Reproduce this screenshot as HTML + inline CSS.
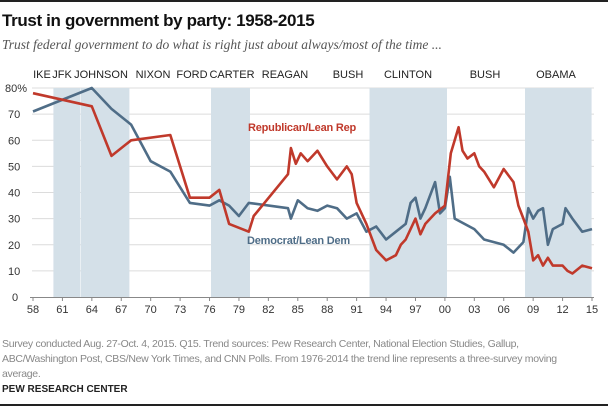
<!DOCTYPE html>
<html><head><meta charset="utf-8"><style>
body{margin:0;width:608px;height:408px;background:#fff;font-family:"Liberation Sans",Arial,sans-serif;position:relative;overflow:hidden}
.a{position:absolute;white-space:nowrap}
</style></head><body>
<div class="a" style="left:0;top:0;width:608px;height:2px;background:#222"></div>
<div class="a" style="left:2px;top:11px;font-size:17px;font-weight:bold;color:#111;letter-spacing:-0.35px">Trust in government by party: 1958-2015</div>
<div class="a" style="left:2px;top:37px;font-size:13.5px;font-style:italic;font-family:'Liberation Serif',serif;color:#555">Trust federal government to do what is right just about always/most of the time ...</div>
<svg id="s" class="a" style="left:0;top:0" width="608" height="408" font-family="Liberation Sans, Arial, sans-serif"></svg>
<div class="a" style="left:2px;top:337px;font-size:10.5px;color:#888;line-height:15px;letter-spacing:-0.3px">Survey conducted Aug. 27-Oct. 4, 2015. Q15. Trend sources: Pew Research Center, National Election Studies, Gallup,<br>ABC/Washington Post, CBS/New York Times, and CNN Polls. From 1976-2014 the trend line represents a three-survey moving<br>average.</div>
<div class="a" style="left:2px;top:384px;font-size:10px;font-weight:bold;color:#222">PEW RESEARCH CENTER</div>
<div class="a" style="left:0;top:404px;width:608px;height:2px;background:#222"></div>
<script>
var s=document.getElementById('s'),h='';
function X(y){return 33+(y-1958)*9.807}
function Y(v){return 297-v*2.6125}
for(var v=10;v<=80;v+=10)h+='<line x1="32" x2="594" y1="'+Y(v)+'" y2="'+Y(v)+'" stroke="#dcdcdc" stroke-width="1"/>';
[[53.4,80.5],[81,129.4],[211,250],[369.5,447],[525,591.6]].forEach(function(b){h+='<rect x="'+b[0]+'" y="88" width="'+(b[1]-b[0])+'" height="209" fill="#d4e0e8"/>';});
h+='<line x1="30" x2="594" y1="297.5" y2="297.5" stroke="#888"/>';
for(var y=1958;y<=2015;y+=3){var x=X(y);h+='<line x1="'+x+'" x2="'+x+'" y1="297" y2="301" stroke="#888"/><text x="'+x+'" y="313" font-size="11" fill="#333" text-anchor="middle">'+String(y).slice(2)+'</text>';}
for(var v=0;v<=80;v+=10)h+='<text x="'+(v==80?5:(v==0?12:8))+'" y="'+(Y(v)+4)+'" font-size="11" fill="#333">'+(v==80?'80%':v)+'</text>';
[['IKE',42],['JFK',62],['JOHNSON',101],['NIXON',153],['FORD',192],['CARTER',232],['REAGAN',285],['BUSH',348],['CLINTON',408],['BUSH',485],['OBAMA',556]].forEach(function(p){h+='<text x="'+p[1]+'" y="78" font-size="11" fill="#222" text-anchor="middle">'+p[0]+'</text>';});
var R=[[1958,78],[1964,73],[1966,54],[1968,60],[1972,62],[1974,38],[1976,38],[1977,41],[1978,28],[1980,25],[1980.5,31],[1984,47],[1984.3,57],[1984.8,51],[1985.3,55],[1986,52],[1987,56],[1988,50],[1989,45],[1990,50],[1990.5,47],[1991,36],[1992,28],[1993,18],[1994,14],[1995,16],[1995.5,20],[1996,22],[1997,30],[1997.5,24],[1998,28],[1999,32],[2000,35],[2000.6,55],[2001,60],[2001.4,65],[2001.8,56],[2002.3,53],[2003,55],[2003.5,50],[2004,48],[2005,42],[2006,49],[2007,44],[2007.5,35],[2008,30],[2008.5,25],[2009,14],[2009.5,16],[2010,12],[2010.5,15],[2011,12],[2012,12],[2012.5,10],[2013,9],[2014,12],[2015,11]];
var D=[[1958,71],[1964,80],[1966,72],[1968,66],[1970,52],[1972,48],[1974,36],[1976,35],[1977,37],[1978,35],[1979,31],[1980,36],[1984,34],[1984.3,30],[1985,37],[1986,34],[1987,33],[1988,35],[1989,34],[1990,30],[1991,32],[1992,25],[1993,27],[1994,22],[1995,25],[1996,28],[1996.5,36],[1997,38],[1997.5,30],[1998,34],[1999,44],[1999.5,32],[2000,34],[2000.5,46],[2001,30],[2002,28],[2003,26],[2004,22],[2005,21],[2006,20],[2007,17],[2008,21],[2008.5,34],[2009,30],[2009.5,33],[2010,34],[2010.5,20],[2011,26],[2012,28],[2012.3,34],[2013,30],[2014,25],[2015,26]];
function pl(d,c){return '<polyline fill="none" stroke="'+c+'" stroke-width="2.6" stroke-linejoin="round" points="'+d.map(function(p){return X(p[0]).toFixed(1)+','+Y(p[1]).toFixed(1)}).join(' ')+'"/>';}
h+=pl(D,'#4f6d87')+pl(R,'#c0392b');
h+='<text x="248" y="131" font-size="11" font-weight="bold" fill="#c0392b" letter-spacing="-0.2">Republican/Lean Rep</text>';
h+='<text x="247" y="244" font-size="11" font-weight="bold" fill="#4f6d87" letter-spacing="-0.2">Democrat/Lean Dem</text>';
s.innerHTML=h;
</script>
</body></html>
